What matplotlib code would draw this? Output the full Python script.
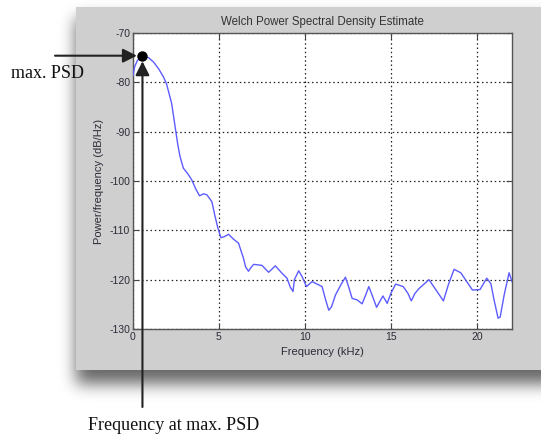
import matplotlib
matplotlib.use("Agg")
import matplotlib.pyplot as plt
from matplotlib.patches import Rectangle
import numpy as np

# PSD estimate (kHz, dB/Hz)
freq_khz = [0.0, 0.1, 0.25, 0.55, 0.9, 1.2, 1.5, 1.77, 1.95, 2.25, 2.45, 2.6,
            2.74, 2.93, 3.2, 3.42, 3.65, 3.87, 4.1, 4.3, 4.59, 4.75, 4.92, 5.11,
            5.3, 5.56, 5.85, 6.14, 6.43, 6.55, 6.72, 6.85, 7.02, 7.5, 7.89, 8.28,
            8.67, 8.96, 9.15, 9.31, 9.39, 9.64, 9.84, 10.09, 10.42, 10.71, 11.0,
            11.2, 11.39, 11.55, 11.78, 12.1, 12.36, 12.55, 12.75, 13.04, 13.33,
            13.55, 13.72, 13.95, 14.17, 14.54, 14.79, 15.0, 15.28, 15.72, 16.0,
            16.19, 16.4, 16.64, 17.22, 17.65, 18.06, 18.35, 18.68, 19.07, 19.4,
            19.75, 20.19, 20.58, 20.82, 21.0, 21.24, 21.36, 21.6, 21.88, 22.05]
psd_db = [-78.6, -76.8, -75.6, -74.6, -75.0, -75.9, -77.3, -78.9, -80.3, -84.3,
          -89.0, -92.5, -95.1, -97.4, -98.6, -99.8, -101.6, -103.0, -102.6,
          -102.8, -104.2, -106.8, -109.3, -111.5, -111.3, -110.8, -111.8,
          -112.6, -115.7, -117.4, -118.3, -117.6, -116.9, -117.1, -118.5,
          -117.2, -118.7, -119.7, -121.5, -122.4, -120.0, -118.2, -119.4,
          -121.4, -120.4, -120.9, -121.4, -124.0, -126.2, -125.5, -123.1,
          -121.0, -119.5, -121.5, -123.8, -124.1, -124.9, -123.0, -121.4,
          -123.5, -125.6, -123.3, -124.8, -122.8, -120.9, -121.4, -122.8,
          -124.3, -122.8, -121.8, -120.0, -122.2, -124.3, -121.0, -117.9,
          -118.6, -120.3, -122.1, -122.0, -119.7, -120.8, -124.0, -127.8,
          -127.6, -123.0, -118.6, -120.4]
x_ticks = [0, 5, 10, 15, 20]
y_ticks = [-130, -120, -110, -100, -90, -80, -70]

W, H = 541, 438
SANS = ["Liberation Sans", "DejaVu Sans"]
SERIF = ["Liberation Serif", "DejaVu Serif"]
TICK = "#2b2b38"
PANEL = "#cfcfcf"

plt.rcParams["axes.unicode_minus"] = False

fig = plt.figure(figsize=(W / 100, H / 100), dpi=100)
fig.patch.set_facecolor("white")

# ---- screenshot backdrop: soft drop shadow + gray window ----------------
bg = fig.add_axes([0, 0, 1, 1], zorder=0)
bg.set_xlim(0, W); bg.set_ylim(H, 0); bg.axis("off")
mask = np.zeros((H, W))
mask[18:384, 76:] = 1.0
k = np.exp(-0.5 * (np.arange(-24, 25) / 8.0) ** 2)
k /= k.sum()
mask = np.apply_along_axis(lambda r: np.convolve(r, k, mode="same"), 1, mask)
mask = np.apply_along_axis(lambda c: np.convolve(c, k, mode="same"), 0, mask)
mask[:, W - 30:] = mask[:, W - 30:W - 29]
shadow = np.zeros((H, W, 4))
shadow[..., 3] = 0.6 * mask
bg.imshow(shadow, extent=(0, W, H, 0), aspect="auto", interpolation="bilinear")
bg.add_patch(Rectangle((76, 7), W - 76, 363, facecolor=PANEL, edgecolor="none"))

# ---- PSD axes -------------------------------------------------------------
ax = fig.add_axes([133 / W, 1 - 329 / H, 379 / W, 296 / H], zorder=1)
ax.set_facecolor("white")
ax.plot(freq_khz, psd_db, color="#5c5cff", lw=1.0, zorder=3)
ax.set_xlim(0, 22.05)
ax.set_ylim(-130, -70)
ax.set_xticks(x_ticks)
ax.set_yticks(y_ticks)
ax.grid(True, color="#222222", ls=(0, (1.2, 2.2)), lw=0.9)
ax.tick_params(direction="in", length=4, width=0.8, color="#444444",
               top=True, right=True, labelsize=7.5, labelcolor=TICK, pad=2)
for lab in ax.get_xticklabels() + ax.get_yticklabels():
    lab.set_family(SANS)
for s in ax.spines.values():
    s.set_color("#555555"); s.set_linewidth(1.0)
ax.set_xlabel("Frequency (kHz)", fontsize=8, family=SANS, color=TICK, labelpad=4)
ax.set_ylabel("Power/frequency (dB/Hz)", fontsize=8, family=SANS, color=TICK, labelpad=4)
ax.set_title("Welch Power Spectral Density Estimate", fontsize=8.3,
             family=SANS, color="#333333", pad=6)

# ---- annotation of the maximum ---------------------------------------------
i_pk = int(np.argmax(psd_db))
f_pk, p_pk = freq_khz[i_pk], psd_db[i_pk]
ax.plot(f_pk, p_pk, "o", color="black", ms=6.5, clip_on=False, zorder=5)
arrow = dict(arrowstyle="-|>,head_length=0.7,head_width=0.35", color="#222222",
             lw=1.5, mutation_scale=12, shrinkA=0, shrinkB=4)
ax.annotate("", xy=(f_pk, p_pk), xytext=(55, p_pk),
            textcoords=("figure pixels", "data"), arrowprops=arrow,
            annotation_clip=False, zorder=6)
ax.annotate("", xy=(f_pk, p_pk), xytext=(f_pk, H - 407),
            textcoords=("data", "figure pixels"), arrowprops=arrow,
            annotation_clip=False, zorder=6)
fig.text(11 / W, 1 - 74 / H, "max. PSD", family=SERIF, fontsize=13,
         color="#111111", va="center", ha="left")
fig.text(88 / W, 1 - 426 / H, "Frequency at max. PSD", family=SERIF,
         fontsize=13, color="#111111", va="center", ha="left")

fig.savefig("out.png", dpi=100, facecolor="white")
